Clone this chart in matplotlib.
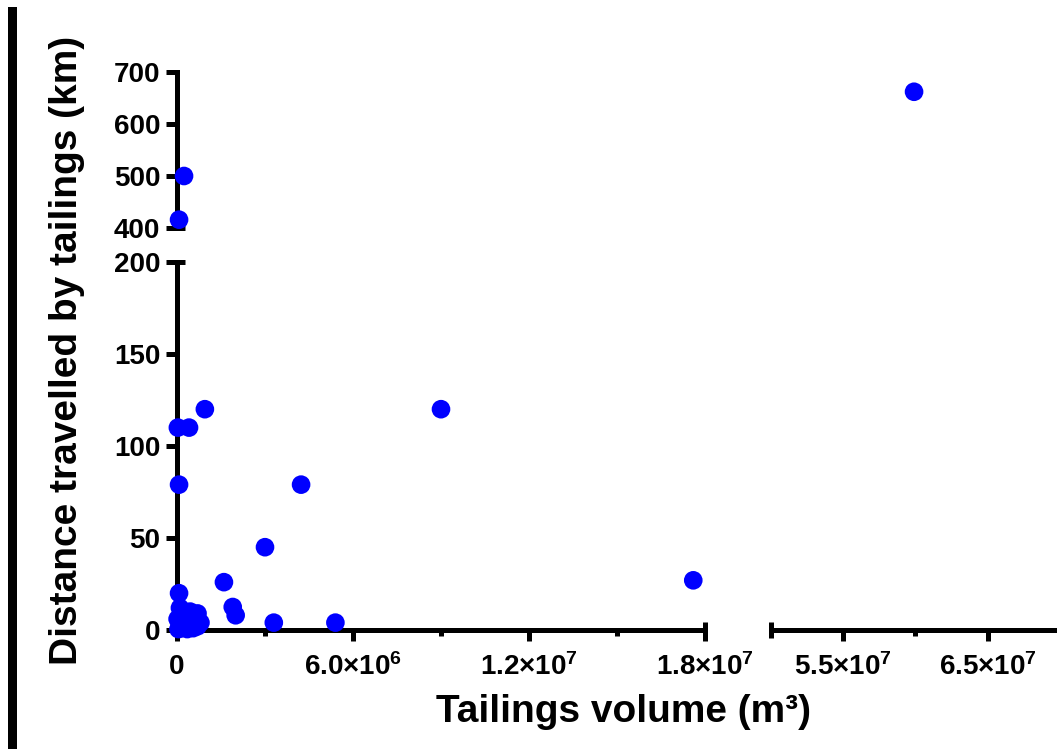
import matplotlib
matplotlib.use("Agg")
import matplotlib.pyplot as plt
from matplotlib.patches import Rectangle
import numpy as np

plt.rcParams['font.family'] = ['Liberation Sans', 'DejaVu Sans']
plt.rcParams['font.weight'] = 'bold'
plt.rcParams['mathtext.fontset'] = 'custom'
plt.rcParams['mathtext.rm'] = 'Liberation Sans:bold'
plt.rcParams['mathtext.it'] = 'Liberation Sans:bold'
plt.rcParams['mathtext.bf'] = 'Liberation Sans:bold'

# data
volume = [0.95e6, 0.03e6, 0.41e6, 0.07e6, 4.23e6, 9.0e6, 3.0e6, 1.6e6, 0.07e6,
          1.9e6, 2.0e6, 3.3e6, 5.4e6, 17.6e6,
          0.1e6, 0.05e6, 0.1e6, 0.2e6, 0.3e6, 0.45e6, 0.5e6, 0.6e6, 0.7e6,
          0.8e6, 0.15e6, 0.35e6, 0.55e6, 0.7e6, 0.25e6, 0.02e6,
          0.24e6, 0.07e6, 5.99e7]
distance = [120, 110, 110, 79, 79, 120, 45, 26, 20,
            12.5, 8, 4, 4, 27,
            12, 0.5, 2, 5, 8, 10, 3, 6, 9,
            4, 1, 0.5, 1, 2, 3, 6,
            500, 416, 662]

x_ticks_left = [0, 6.0e6, 1.2e7, 1.8e7]
x_labels_left = ['0', r'6.0×10$^{6}$', r'1.2×10$^{7}$', r'1.8×10$^{7}$']
x_minor_left = [3.0e6, 9.0e6, 1.5e7]
x_ticks_right = [5.5e7, 6.5e7]
x_labels_right = [r'5.5×10$^{7}$', r'6.5×10$^{7}$']
x_minor_right = [6.0e7]
y_ticks_low = [0, 50, 100, 150, 200]
y_ticks_high = [400, 500, 600, 700]

W, H = 1057, 749
fig = plt.figure(figsize=(W / 100, H / 100), dpi=100)

def px_axes(x0, y0, x1, y1):
    return fig.add_axes([x0 / W, 1 - y1 / H, (x1 - x0) / W, (y1 - y0) / H])

ax_ll = px_axes(177, 262, 705, 630)
ax_ul = px_axes(177, 72, 705, 228)
ax_lr = px_axes(771, 262, 1060, 630)
ax_ur = px_axes(771, 72, 1060, 228)

panels = [(ax_ll, (0, 1.8e7), (0, 200)),
          (ax_ul, (0, 1.8e7), (400, 700)),
          (ax_lr, (5e7, 7e7), (0, 200)),
          (ax_ur, (5e7, 7e7), (400, 700))]

vol = np.array(volume)
dist = np.array(distance)
lw = 3.6
for ax, xl, yl in panels:
    ax.set_xlim(*xl)
    ax.set_ylim(*yl)
    ax.patch.set_visible(False)
    for s in ax.spines.values():
        s.set_visible(False)
        s.set_linewidth(lw)
    ax.set_xticks([])
    ax.set_yticks([])
    m = (vol >= xl[0] - 1e6) & (vol <= xl[1]) & (dist >= yl[0] - 10) & (dist <= yl[1])
    if m.any():
        ax.scatter(vol[m], dist[m], s=180, color='#0000ff', edgecolors='none',
                   clip_on=False, zorder=5)
    ax.tick_params(which='major', length=8, width=lw, labelsize=20)
    ax.tick_params(axis='x', which='major', pad=9)
    ax.tick_params(axis='y', which='major', pad=4)
    ax.tick_params(which='minor', length=4, width=lw)

# lower left: both axes
ax_ll.spines['left'].set_visible(True)
ax_ll.spines['bottom'].set_visible(True)
ax_ll.set_xticks(x_ticks_left)
ax_ll.set_xticklabels(x_labels_left)
ax_ll.set_xticks(x_minor_left, minor=True)
ax_ll.set_yticks(y_ticks_low)

# upper left: y axis only
ax_ul.spines['left'].set_visible(True)
ax_ul.set_yticks(y_ticks_high)

# lower right: x axis only
ax_lr.spines['bottom'].set_visible(True)
ax_lr.set_xticks(x_ticks_right)
ax_lr.set_xticklabels(x_labels_right)
ax_lr.set_xticks(x_minor_right, minor=True)

# caps at the axis breaks
def cap(ax, x, y, vertical, half_px):
    bb = ax.get_position()
    if vertical:
        d = half_px / (bb.height * H)
        ax.plot([x, x], [y - d, y + d], transform=ax.transAxes, color='k',
                lw=lw, solid_capstyle='butt', clip_on=False)
    else:
        d = half_px / (bb.width * W)
        ax.plot([x - d, x + d], [y, y], transform=ax.transAxes, color='k',
                lw=lw, solid_capstyle='butt', clip_on=False)

cap(ax_ll, 1, 0, True, 8)
cap(ax_lr, 0, 0, True, 8)
cap(ax_ll, 0, 1, False, 8)
cap(ax_ul, 0, 0, False, 8)

fig.text(623 / W, 1 - 722 / H, 'Tailings volume (m³)', ha='center', va='baseline',
         fontsize=28, fontweight='bold')
fig.text(77 / W, 1 - 350 / H, 'Distance travelled by tailings (km)', rotation=90,
         rotation_mode='anchor', ha='center', va='baseline', fontsize=28,
         fontweight='bold')

fig.patches.append(Rectangle((8 / W, 0), 9 / W, (H - 7) / H, transform=fig.transFigure,
                             facecolor='black', edgecolor='none'))

fig.savefig('out.png', dpi=100)
